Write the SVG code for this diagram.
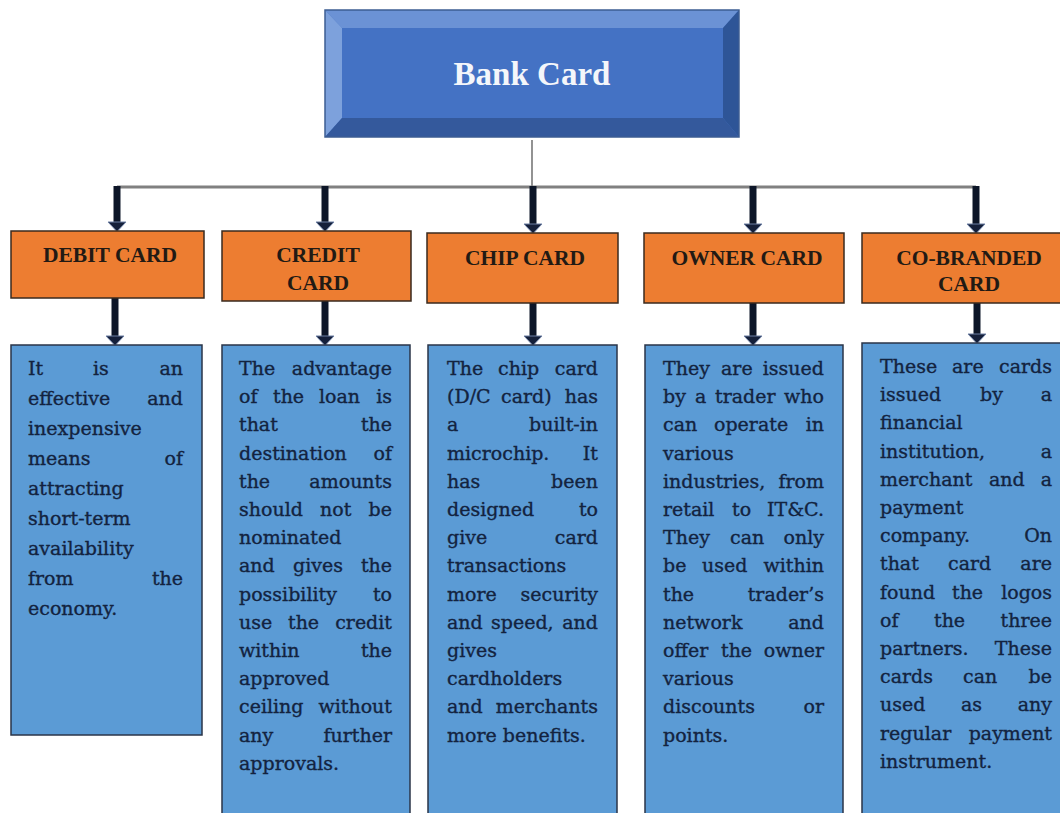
<svg xmlns="http://www.w3.org/2000/svg" width="1060" height="813" viewBox="0 0 1060 813">
<style>
.bg{fill:#ffffff}
.org{fill:#ed7d31;stroke:#3a2a1e;stroke-width:1.5}
.blu{fill:#5b9bd5;stroke:#2a3548;stroke-width:1.5}
.lbl{font-family:"Liberation Serif","Times New Roman",serif;font-weight:bold;font-size:21.5px;fill:#221a14;text-anchor:middle}
.title{font-family:"Liberation Serif","Times New Roman",serif;font-weight:bold;font-size:33px;fill:#f4f6fa;text-anchor:middle}
.b{font-family:"DejaVu Serif","Liberation Serif",serif;font-size:19px;fill:#13233f;stroke:#13233f;stroke-width:0.35}
.e{text-anchor:end}
.thick{stroke:#0d1628;stroke-width:7;fill:none}
.hline{stroke:#808080;stroke-width:3;fill:none}
.thin{stroke:#4a4a4a;stroke-width:1.2;fill:none}
</style>
<defs>
<marker id="ah" viewBox="0 -10 10 20" refX="0" refY="0" markerWidth="10" markerHeight="20" markerUnits="userSpaceOnUse" orient="auto" overflow="visible">
<path d="M0,-9 L9.5,0 L0,9 Z" fill="#15203a" stroke="#6d7fa3" stroke-width="1"/>
</marker>
</defs>
<rect class="bg" x="0" y="0" width="1060" height="813"/>

<g id="connectors">
<line class="thin" x1="532" y1="140" x2="532" y2="187"/>
<line class="hline" x1="117" y1="187" x2="976" y2="187"/>
<line class="thick" x1="117" y1="186" x2="117" y2="222" marker-end="url(#ah)"/>
<line class="thick" x1="325" y1="186" x2="325" y2="222" marker-end="url(#ah)"/>
<line class="thick" x1="533" y1="186" x2="533" y2="224" marker-end="url(#ah)"/>
<line class="thick" x1="753" y1="186" x2="753" y2="224" marker-end="url(#ah)"/>
<line class="thick" x1="976" y1="186" x2="976" y2="224" marker-end="url(#ah)"/>
<line class="thick" x1="115" y1="298" x2="115" y2="336" marker-end="url(#ah)"/>
<line class="thick" x1="325" y1="301" x2="325" y2="336" marker-end="url(#ah)"/>
<line class="thick" x1="533" y1="303" x2="533" y2="336" marker-end="url(#ah)"/>
<line class="thick" x1="753" y1="303" x2="753" y2="336" marker-end="url(#ah)"/>
<line class="thick" x1="977" y1="303" x2="977" y2="334" marker-end="url(#ah)"/>
</g>

<g id="node-bank">
<rect x="325" y="10" width="414" height="127" fill="#4472c4"/>
<polygon points="325,10 739,10 723,28 342,28" fill="#6b92d5"/>
<polygon points="325,10 342,28 342,118 325,137" fill="#7da1dc"/>
<polygon points="739,10 739,137 723,118 723,28" fill="#2e5597"/>
<polygon points="325,137 342,118 723,118 739,137" fill="#34599c"/>
<rect x="342" y="28" width="381" height="90" fill="#4472c4"/>
<rect x="325" y="10" width="414" height="127" fill="none" stroke="#3d5d93" stroke-width="1.5"/>
<text class="title" x="532" y="85">Bank Card</text>
</g>

<g id="node-debit">
<rect class="org" x="11" y="231" width="193" height="67"/>
<text class="lbl" x="110" y="262">DEBIT CARD</text>
</g>
<g id="node-credit">
<rect class="org" x="222" y="231" width="189" height="70"/>
<text class="lbl" x="318" y="262">CREDIT</text>
<text class="lbl" x="318" y="290">CARD</text>
</g>
<g id="node-chip">
<rect class="org" x="427" y="233" width="191" height="70"/>
<text class="lbl" x="525" y="265">CHIP CARD</text>
</g>
<g id="node-owner">
<rect class="org" x="644" y="233" width="200" height="70"/>
<text class="lbl" x="747" y="265">OWNER CARD</text>
</g>
<g id="node-cobranded">
<rect class="org" x="862" y="233" width="210" height="70"/>
<text class="lbl" x="969" y="265">CO-BRANDED</text>
<text class="lbl" x="969" y="291">CARD</text>
</g>

<g id="desc-debit">
<rect class="blu" x="11" y="345" width="191" height="390"/>
<text class="b" x="28" y="375">It</text><text class="b" x="93" y="375">is</text><text class="b e" x="183" y="375">an</text>
<text class="b" x="28" y="405">effective</text><text class="b e" x="183" y="405">and</text>
<text class="b" x="28" y="435">inexpensive</text>
<text class="b" x="28" y="465">means</text><text class="b e" x="183" y="465">of</text>
<text class="b" x="28" y="495">attracting</text>
<text class="b" x="28" y="525">short-term</text>
<text class="b" x="28" y="555">availability</text>
<text class="b" x="28" y="585">from</text><text class="b e" x="183" y="585">the</text>
<text class="b" x="28" y="615">economy.</text>
</g>

<g id="desc-credit">
<rect class="blu" x="222" y="345" width="188" height="490"/>
<text class="b" x="239" y="375">The</text><text class="b e" x="392" y="375">advantage</text>
<text class="b" x="239" y="403.2">of</text><text class="b" x="273" y="403.2">the</text><text class="b" x="319" y="403.2">loan</text><text class="b e" x="392" y="403.2">is</text>
<text class="b" x="239" y="431.4">that</text><text class="b e" x="392" y="431.4">the</text>
<text class="b" x="239" y="459.6">destination</text><text class="b e" x="392" y="459.6">of</text>
<text class="b" x="239" y="487.8">the</text><text class="b e" x="392" y="487.8">amounts</text>
<text class="b" x="239" y="516">should</text><text class="b" x="320" y="516">not</text><text class="b e" x="392" y="516">be</text>
<text class="b" x="239" y="544.2">nominated</text>
<text class="b" x="239" y="572.4">and</text><text class="b" x="293" y="572.4">gives</text><text class="b e" x="392" y="572.4">the</text>
<text class="b" x="239" y="600.6">possibility</text><text class="b e" x="392" y="600.6">to</text>
<text class="b" x="239" y="628.8">use</text><text class="b" x="288" y="628.8">the</text><text class="b e" x="392" y="628.8">credit</text>
<text class="b" x="239" y="657">within</text><text class="b e" x="392" y="657">the</text>
<text class="b" x="239" y="685.2">approved</text>
<text class="b" x="239" y="713.4">ceiling</text><text class="b e" x="392" y="713.4">without</text>
<text class="b" x="239" y="741.6">any</text><text class="b e" x="392" y="741.6">further</text>
<text class="b" x="239" y="769.8">approvals.</text>
</g>

<g id="desc-chip">
<rect class="blu" x="428" y="345" width="189" height="490"/>
<text class="b" x="447" y="375">The</text><text class="b" x="498" y="375">chip</text><text class="b e" x="598" y="375">card</text>
<text class="b" x="447" y="403.2">(D/C</text><text class="b" x="501" y="403.2">card)</text><text class="b e" x="598" y="403.2">has</text>
<text class="b" x="447" y="431.4">a</text><text class="b e" x="598" y="431.4">built-in</text>
<text class="b" x="447" y="459.6">microchip.</text><text class="b e" x="598" y="459.6">It</text>
<text class="b" x="447" y="487.8">has</text><text class="b e" x="598" y="487.8">been</text>
<text class="b" x="447" y="516">designed</text><text class="b e" x="598" y="516">to</text>
<text class="b" x="447" y="544.2">give</text><text class="b e" x="598" y="544.2">card</text>
<text class="b" x="447" y="572.4">transactions</text>
<text class="b" x="447" y="600.6">more</text><text class="b e" x="598" y="600.6">security</text>
<text class="b" x="447" y="628.8">and</text><text class="b" x="491" y="628.8">speed,</text><text class="b e" x="598" y="628.8">and</text>
<text class="b" x="447" y="657">gives</text>
<text class="b" x="447" y="685.2">cardholders</text>
<text class="b" x="447" y="713.4">and</text><text class="b e" x="598" y="713.4">merchants</text>
<text class="b" x="447" y="741.6">more benefits.</text>
</g>

<g id="desc-owner">
<rect class="blu" x="645" y="345" width="198" height="490"/>
<text class="b" x="663" y="375">They</text><text class="b" x="721" y="375">are</text><text class="b e" x="824" y="375">issued</text>
<text class="b" x="663" y="403.2">by</text><text class="b" x="695" y="403.2">a</text><text class="b" x="715" y="403.2">trader</text><text class="b e" x="824" y="403.2">who</text>
<text class="b" x="663" y="431.4">can</text><text class="b" x="714" y="431.4">operate</text><text class="b e" x="824" y="431.4">in</text>
<text class="b" x="663" y="459.6">various</text>
<text class="b" x="663" y="487.8">industries,</text><text class="b e" x="824" y="487.8">from</text>
<text class="b" x="663" y="516">retail</text><text class="b" x="732" y="516">to</text><text class="b e" x="824" y="516">IT&amp;C.</text>
<text class="b" x="663" y="544.2">They</text><text class="b" x="730" y="544.2">can</text><text class="b e" x="824" y="544.2">only</text>
<text class="b" x="663" y="572.4">be</text><text class="b" x="702" y="572.4">used</text><text class="b e" x="824" y="572.4">within</text>
<text class="b" x="663" y="600.6">the</text><text class="b e" x="824" y="600.6">trader’s</text>
<text class="b" x="663" y="628.8">network</text><text class="b e" x="824" y="628.8">and</text>
<text class="b" x="663" y="657">offer</text><text class="b" x="721" y="657">the</text><text class="b e" x="824" y="657">owner</text>
<text class="b" x="663" y="685.2">various</text>
<text class="b" x="663" y="713.4">discounts</text><text class="b e" x="824" y="713.4">or</text>
<text class="b" x="663" y="741.6">points.</text>
</g>

<g id="desc-cobranded">
<rect class="blu" x="862" y="343" width="210" height="490"/>
<text class="b" x="880" y="373">These</text><text class="b" x="952" y="373">are</text><text class="b e" x="1052" y="373">cards</text>
<text class="b" x="880" y="401.2">issued</text><text class="b" x="980" y="401.2">by</text><text class="b e" x="1052" y="401.2">a</text>
<text class="b" x="880" y="429.4">financial</text>
<text class="b" x="880" y="457.6">institution,</text><text class="b e" x="1052" y="457.6">a</text>
<text class="b" x="880" y="485.8">merchant</text><text class="b" x="989" y="485.8">and</text><text class="b e" x="1052" y="485.8">a</text>
<text class="b" x="880" y="514">payment</text>
<text class="b" x="880" y="542.2">company.</text><text class="b e" x="1052" y="542.2">On</text>
<text class="b" x="880" y="570.4">that</text><text class="b" x="948" y="570.4">card</text><text class="b e" x="1052" y="570.4">are</text>
<text class="b" x="880" y="598.6">found</text><text class="b" x="952" y="598.6">the</text><text class="b e" x="1052" y="598.6">logos</text>
<text class="b" x="880" y="626.8">of</text><text class="b" x="934" y="626.8">the</text><text class="b e" x="1052" y="626.8">three</text>
<text class="b" x="880" y="655">partners.</text><text class="b e" x="1052" y="655">These</text>
<text class="b" x="880" y="683.2">cards</text><text class="b" x="963" y="683.2">can</text><text class="b e" x="1052" y="683.2">be</text>
<text class="b" x="880" y="711.4">used</text><text class="b" x="961" y="711.4">as</text><text class="b e" x="1052" y="711.4">any</text>
<text class="b" x="880" y="739.6">regular</text><text class="b e" x="1052" y="739.6">payment</text>
<text class="b" x="880" y="767.8">instrument.</text>
</g>
</svg>
